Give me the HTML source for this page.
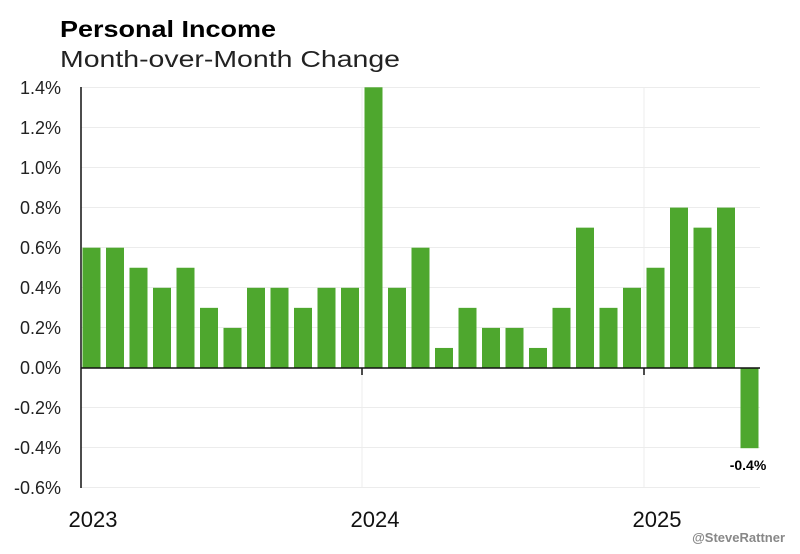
<!DOCTYPE html>
<html><head><meta charset="utf-8"><style>
body{margin:0;background:#fff;width:800px;height:549px;overflow:hidden;font-family:"Liberation Sans",sans-serif}
</style></head><body>
<svg width="800" height="549" xmlns="http://www.w3.org/2000/svg" font-family="Liberation Sans, sans-serif">
<text x="60" y="37" font-size="23" font-weight="bold" fill="#000" textLength="216" lengthAdjust="spacingAndGlyphs">Personal Income</text>
<text x="60" y="67" font-size="23" fill="#222" textLength="340" lengthAdjust="spacingAndGlyphs">Month-over-Month Change</text>
<g stroke="#ececec" stroke-width="1">
<line x1="81" y1="87.5" x2="760" y2="87.5"/><line x1="81" y1="127.5" x2="760" y2="127.5"/>
<line x1="81" y1="167.5" x2="760" y2="167.5"/><line x1="81" y1="207.5" x2="760" y2="207.5"/>
<line x1="81" y1="247.5" x2="760" y2="247.5"/><line x1="81" y1="287.5" x2="760" y2="287.5"/>
<line x1="81" y1="327.5" x2="760" y2="327.5"/><line x1="81" y1="407.5" x2="760" y2="407.5"/>
<line x1="81" y1="447.5" x2="760" y2="447.5"/><line x1="81" y1="487.5" x2="760" y2="487.5"/>
<line x1="362" y1="87" x2="362" y2="488"/><line x1="644" y1="87" x2="644" y2="488"/>
</g>
<g fill="#222" font-size="18" text-anchor="end">
<text x="61" y="94">1.4%</text><text x="61" y="134">1.2%</text><text x="61" y="174">1.0%</text>
<text x="61" y="214">0.8%</text><text x="61" y="254">0.6%</text><text x="61" y="294">0.4%</text>
<text x="61" y="334">0.2%</text><text x="61" y="374">0.0%</text><text x="61" y="414">-0.2%</text>
<text x="61" y="454">-0.4%</text><text x="61" y="494">-0.6%</text>
</g>
<g fill="#4ea72e">
<rect x="82.5" y="247.7" width="18" height="120.3"/>
<rect x="106" y="247.7" width="18" height="120.3"/>
<rect x="129.5" y="267.75" width="18" height="100.25"/>
<rect x="153" y="287.8" width="18" height="80.2"/>
<rect x="176.5" y="267.75" width="18" height="100.25"/>
<rect x="200" y="307.85" width="18" height="60.15"/>
<rect x="223.5" y="327.9" width="18" height="40.1"/>
<rect x="247" y="287.8" width="18" height="80.2"/>
<rect x="270.5" y="287.8" width="18" height="80.2"/>
<rect x="294" y="307.85" width="18" height="60.15"/>
<rect x="317.5" y="287.8" width="18" height="80.2"/>
<rect x="341" y="287.8" width="18" height="80.2"/>
<rect x="364.5" y="87.3" width="18" height="280.7"/>
<rect x="388" y="287.8" width="18" height="80.2"/>
<rect x="411.5" y="247.7" width="18" height="120.3"/>
<rect x="435" y="347.95" width="18" height="20.05"/>
<rect x="458.5" y="307.85" width="18" height="60.15"/>
<rect x="482" y="327.9" width="18" height="40.1"/>
<rect x="505.5" y="327.9" width="18" height="40.1"/>
<rect x="529" y="347.95" width="18" height="20.05"/>
<rect x="552.5" y="307.85" width="18" height="60.15"/>
<rect x="576" y="227.65" width="18" height="140.35"/>
<rect x="599.5" y="307.85" width="18" height="60.15"/>
<rect x="623" y="287.8" width="18" height="80.2"/>
<rect x="646.5" y="267.75" width="18" height="100.25"/>
<rect x="670" y="207.6" width="18" height="160.4"/>
<rect x="693.5" y="227.65" width="18" height="140.35"/>
<rect x="717" y="207.6" width="18" height="160.4"/>
<rect x="740.5" y="368" width="18" height="80.2"/>
</g>
<line x1="81" y1="368" x2="760" y2="368" stroke="#111" stroke-width="1.5"/>
<line x1="81" y1="87" x2="81" y2="488" stroke="#111" stroke-width="1.5"/>
<line x1="362" y1="368" x2="362" y2="375" stroke="#111" stroke-width="1.5"/>
<line x1="644" y1="368" x2="644" y2="375" stroke="#111" stroke-width="1.5"/>
<g fill="#111" font-size="22" text-anchor="middle">
<text x="93" y="527">2023</text><text x="375" y="527">2024</text><text x="657" y="527">2025</text>
</g>
<text x="748" y="470" font-size="14" font-weight="bold" text-anchor="middle" fill="#000">-0.4%</text>
<text x="785" y="542" font-size="13" font-weight="bold" text-anchor="end" fill="#888">@SteveRattner</text>
</svg>
</body></html>
